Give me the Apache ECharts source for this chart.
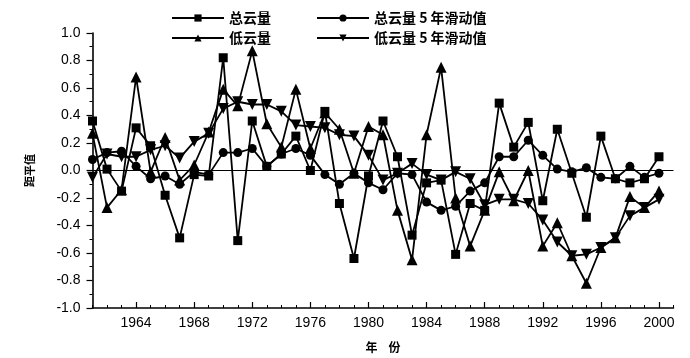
<!DOCTYPE html>
<html>
<head>
<meta charset="utf-8">
<script src="https://cdn.jsdelivr.net/npm/echarts@6/dist/echarts.min.js"></script>
<style>html,body{margin:0;padding:0;background:#fff;}#c{width:690px;height:358px;}</style>
</head>
<body>
<div id="c"></div>
<script>
const years = [1961,1962,1963,1964,1965,1966,1967,1968,1969,1970,
               1971,1972,1973,1974,1975,1976,1977,1978,1979,1980,
               1981,1982,1983,1984,1985,1986,1987,1988,1989,1990,
               1991,1992,1993,1994,1995,1996,1997,1998,1999,2000];
const axisEndYear = 2001;
const total = [0.36,0.01,-0.15,0.31,0.18,-0.18,-0.49,-0.03,-0.04,0.82,
               -0.51,0.36,0.03,0.12,0.25,0.00,0.43,-0.24,-0.64,-0.04,
               0.36,0.10,-0.47,-0.09,-0.07,-0.61,-0.24,-0.29,0.49,0.17,
               0.35,-0.22,0.30,-0.02,-0.34,0.25,-0.06,-0.09,-0.06,0.10];
const total5 = [0.08,0.13,0.14,0.03,-0.06,-0.04,-0.10,-0.01,-0.03,0.13,
                0.13,0.16,0.03,0.12,0.16,0.11,-0.03,-0.10,-0.02,-0.09,
                -0.14,-0.02,-0.03,-0.23,-0.29,-0.26,-0.15,-0.09,0.10,0.10,
                0.22,0.11,0.01,-0.01,0.02,-0.05,-0.06,0.03,-0.05,-0.02];
const low = [0.27,-0.27,-0.14,0.68,-0.01,0.24,-0.07,0.04,0.28,0.59,
             0.47,0.87,0.34,0.17,0.59,0.16,0.42,0.30,-0.02,0.32,
             0.26,-0.29,-0.65,0.26,0.75,-0.20,-0.55,-0.29,-0.01,-0.22,
             0.00,-0.55,-0.38,-0.62,-0.82,-0.56,-0.49,-0.19,-0.27,-0.15];
const low5 = [-0.05,0.12,0.10,0.10,0.15,0.18,0.09,0.21,0.27,0.45,
              0.50,0.48,0.48,0.43,0.33,0.32,0.31,0.26,0.25,0.11,
              -0.07,-0.02,0.05,-0.03,-0.07,-0.01,-0.06,-0.25,-0.21,-0.21,
              -0.24,-0.36,-0.52,-0.62,-0.61,-0.56,-0.49,-0.33,-0.27,-0.21];
const seriesNames = ['总云量','总云量 5 年滑动值','低云量','低云量 5 年滑动值'];
const xName = '年    份';
const yName = '距平值';

const categories = years.map(String).concat([String(axisEndYear)]);
const black = '#000';
const numFont = 'Liberation Sans, Arial, sans-serif';
const cjkFont = 'Noto Sans CJK SC, sans-serif';

const chart = echarts.init(document.getElementById('c'), null, {renderer:'canvas'});
function legendAt(name, left, top) {
  return {
    data:[name], left:left, top:top, orient:'horizontal', padding:0,
    itemWidth:52, itemHeight:9,
    textStyle:{fontFamily:cjkFont, fontSize:14, fontWeight:'bold', color:black},
    selectedMode:false
  };
}
function lineSeries(name, data, symbol, size, rotate) {
  return {
    name:name, type:'line', data:data, symbol:symbol, symbolSize:size,
    symbolRotate:rotate || 0, showSymbol:true, showAllSymbol:true,
    lineStyle:{color:black, width:1.8}, itemStyle:{color:black},
    animation:false
  };
}
const s0 = lineSeries(seriesNames[0], total, 'rect', 9);
s0.markLine = {silent:true, symbol:'none', label:{show:false},
  lineStyle:{color:black, width:1.2, type:'solid'}, data:[{yAxis:0}], animation:false};
const option = {
  backgroundColor:'#fff',
  animation:false,
  grid:{left:92.5, right:16.5, top:33, bottom:50, containLabel:false},
  legend:[
    legendAt(seriesNames[0], 171, 11),
    legendAt(seriesNames[1], 316, 11),
    legendAt(seriesNames[2], 171, 31),
    legendAt(seriesNames[3], 316, 31)
  ],
  xAxis:[
    {type:'category', data:categories, boundaryGap:false,
     name:xName, nameLocation:'middle', nameGap:33,
     nameTextStyle:{fontFamily:cjkFont, fontSize:12, fontWeight:'bold', color:black},
     axisLine:{show:true, onZero:false, lineStyle:{color:black, width:1.6}},
     axisTick:{show:true, inside:true, length:3, interval:0, lineStyle:{color:black, width:1}},
     axisLabel:{interval:function(i,v){return (+v)%4===0;}, margin:8,
                fontFamily:numFont, fontSize:14, color:black},
     splitLine:{show:false}},
    {type:'category', data:categories, boundaryGap:false, position:'bottom',
     axisLine:{show:false, onZero:false},
     axisTick:{show:true, inside:true, length:6, interval:function(i,v){return (+v)%4===0;},
               lineStyle:{color:black, width:1.2}},
     axisLabel:{show:false}, splitLine:{show:false}}
  ],
  yAxis:{type:'value', min:-1, max:1, interval:0.2,
    name:yName, nameLocation:'middle', nameRotate:90, nameGap:57,
    nameTextStyle:{fontFamily:cjkFont, fontSize:11, fontWeight:'bold', color:black},
    axisLine:{show:true, lineStyle:{color:black, width:1.6}},
    axisTick:{show:true, inside:false, length:6, lineStyle:{color:black, width:1.2}},
    minorTick:{show:true, splitNumber:2, length:3, lineStyle:{color:black, width:1}},
    axisLabel:{formatter:function(v){return v.toFixed(1);}, margin:12,
               fontFamily:numFont, fontSize:14, color:black},
    splitLine:{show:false}, minorSplitLine:{show:false}},
  series:[
    s0,
    lineSeries(seriesNames[1], total5, 'circle', 9),
    lineSeries(seriesNames[2], low, 'triangle', 11),
    lineSeries(seriesNames[3], low5, 'triangle', 11, 180)
  ]
};
chart.setOption(option);
</script>
</body>
</html>
